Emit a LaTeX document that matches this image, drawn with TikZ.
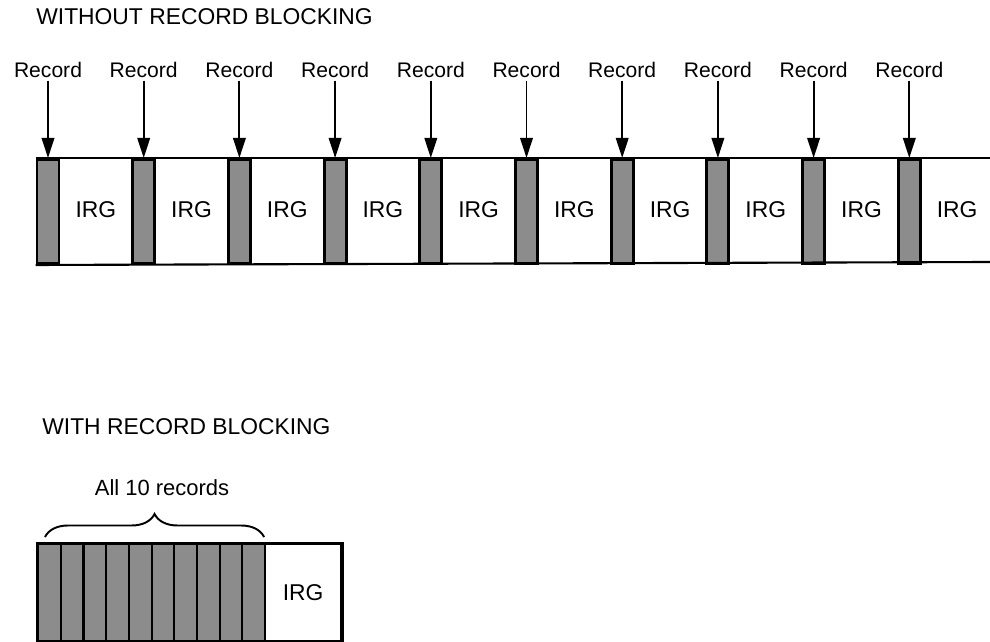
\documentclass[tikz,border=0pt]{standalone}
\usepackage{fontspec}
\setmainfont{Liberation Sans}
\usetikzlibrary{arrows.meta,decorations.pathreplacing}

\begin{document}
\begin{tikzpicture}[
  x=0.2mm, y=-0.2mm,
  font=\fontsize{12}{14}\selectfont,
  ttl/.style={anchor=west, inner sep=0pt, font=\fontsize{13}{15}\selectfont},
  lbl/.style={inner sep=1.5pt},
  rec/.style={draw, line width=1.7pt, fill=black!45, inner sep=0pt, anchor=north,
              minimum width=4.4mm, minimum height=20.8mm},
  gap/.style={inner sep=0pt, font=\fontsize{13}{15}\selectfont},
  brec/.style={draw, line width=1.2pt, fill=black!45, inner sep=0pt, anchor=north west,
               minimum width=4.54mm, minimum height=19.4mm},
  irgbox/.style={draw, line width=1.2pt, fill=white, inner sep=0pt, anchor=north west,
                 minimum width=15.2mm, minimum height=19.4mm, font=\fontsize{13}{15}\selectfont},
  edge/.style={line width=1.2pt},
  arr/.style={-{Triangle[length=4mm,width=2.5mm]}, line width=1.1pt},
  brc/.style={decorate, decoration={brace, amplitude=4.6mm}, line width=1.1pt}
]
  \useasboundingbox (0,0) rectangle (990,642);

  % without blocking
  \node[ttl] (top) at (36,17) {WITHOUT RECORD BLOCKING};
  \foreach \i in {0,...,9} {
    \node[rec] (r\i) at ({48+95.7*\i},158) {};
    \node[gap] (g\i) at ({48+95.7*(\i+0.5)},210) {IRG};
    \node[lbl] (l\i) at ({48+95.7*\i},70) {Record};
    \draw[arr] (l\i) -- (r\i);
  }
  \draw[edge] (r0.north west) -- (990,158);
  \draw[edge] (r0.south west) -- (990,262);

  % with blocking
  \node[ttl] (bot) at (42,427) {WITH RECORD BLOCKING};
  \foreach \i in {0,...,9}
    \node[brec] (b\i) at ({37+22.7*\i},543) {};
  \node[irgbox] (bg) at (264,543) {IRG};
  \draw[line width=1.6pt] (b0.north west) rectangle (bg.south east);
  \draw[brc] ([xshift=1.6mm,yshift=1.2mm]b0.north west) -- ([xshift=-0.4mm,yshift=1.2mm]b9.north east);
  \node[lbl, font=\fontsize{12.5}{14}\selectfont] (all) at (162,488) {All 10 records};
\end{tikzpicture}
\end{document}
